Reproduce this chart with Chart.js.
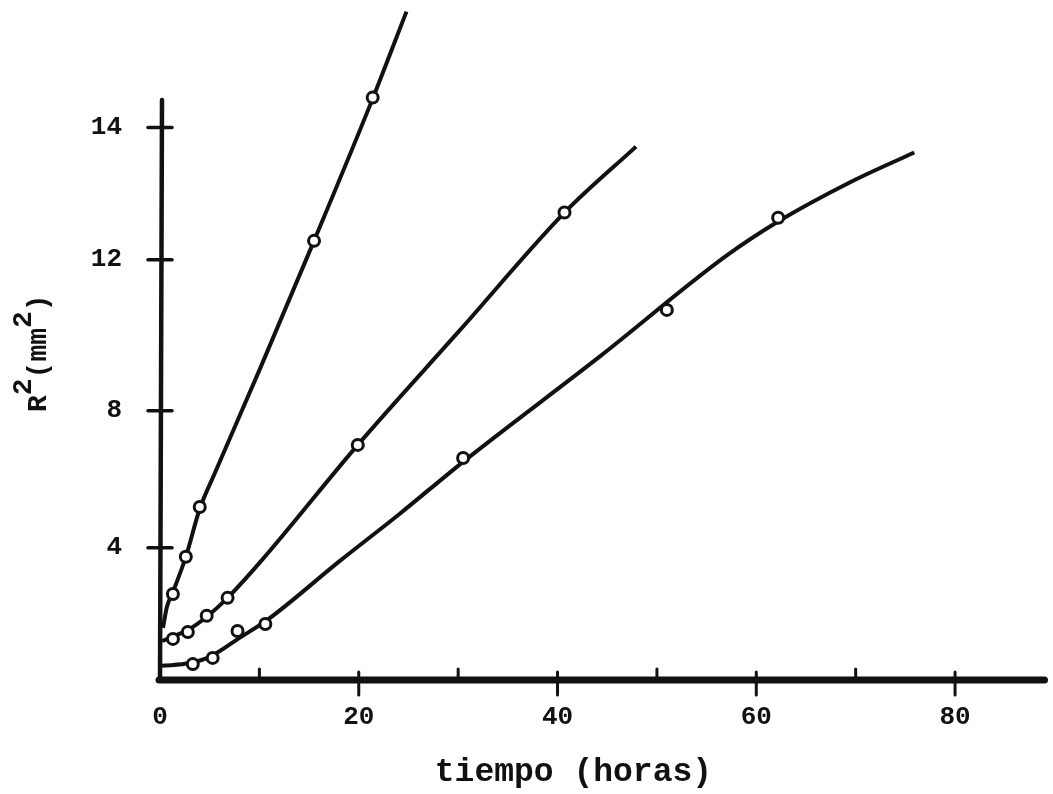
<!DOCTYPE html>
<html><head><meta charset="utf-8">
<script src="https://cdn.jsdelivr.net/npm/chart.js@4"></script>
<style>html,body{margin:0;padding:0;background:#fff}</style>
</head><body><canvas id="c" width="1053" height="794"></canvas>
<script>
// ---- tick labels ----
const xTickValues = [0, 20, 40, 60, 80];
const xTickLabels = ['0', '20', '40', '60', '80'];
const xMinorTickValues = [10, 30, 50, 70];
const yTickValues = [3.83, 7.8, 12.17, 16];
const yTickLabels = ['4', '8', '12', '14'];
const xTitle = 'tiempo (horas)';
const yTitle = 'R²(mm²)';

// ---- measured points (open circles) ----
const seriesA_x = [1.3, 2.6, 4.0, 15.5, 21.4];
const seriesA_y = [2.49, 3.57, 5.01, 12.72, 16.87];
const seriesB_x = [1.3, 2.8, 4.7, 6.8, 19.9, 40.7];
const seriesB_y = [1.19, 1.39, 1.86, 2.38, 6.81, 13.54];
const seriesC_x = [3.3, 5.3, 7.8, 10.6, 30.5, 51.0, 62.2];
const seriesC_y = [0.46, 0.64, 1.42, 1.62, 6.43, 10.72, 13.39];

// ---- hand-drawn fitted curves ----
const curveA_x = [0.3, 0.7, 1.3, 2.6, 4.0, 5.5, 10.1, 15.5, 21.4, 24.8];
const curveA_y = [1.51, 2.12, 2.55, 3.57, 4.96, 5.98, 9.04, 12.72, 16.84, 19.36];
const curveB_x = [0.2, 1.5, 3.0, 4.7, 6.8, 10.1, 19.9, 30.2, 40.7, 47.9];
const curveB_y = [1.13, 1.28, 1.48, 1.83, 2.38, 3.42, 6.81, 10.14, 13.54, 15.45];
const curveC_x = [0.2, 3.0, 5.0, 8.0, 10.8, 18.1, 24.1, 30.5, 44.3, 57.0, 62.2, 69.4, 75.9];
const curveC_y = [0.41, 0.49, 0.67, 1.22, 1.74, 3.45, 4.81, 6.32, 9.38, 12.29, 13.28, 14.41, 15.28];

const xMin = 0, xMax = 89, yMin = 0, yMax = 16.8;
const INK = '#111';
const FONT = '"Liberation Mono", "DejaVu Sans Mono", monospace';

const zip = (xs, ys) => xs.map((x, i) => ({x, y: ys[i]}));

function curve(xs, ys) {
  return {data: zip(xs, ys), showLine: true, borderColor: INK, borderWidth: 4,
    pointRadius: 0, cubicInterpolationMode: 'monotone', clip: false, order: 2, fill: false};
}
function pts(xs, ys) {
  return {data: zip(xs, ys), showLine: false, pointStyle: 'circle', pointRadius: 5.5,
    pointBorderWidth: 3, pointBorderColor: INK, pointBackgroundColor: '#fff', clip: false, order: 1};
}

const axesPlugin = {
  id: 'axesPlugin',
  beforeDatasetsDraw(chart) {
    const {ctx} = chart;
    const xs = chart.scales.x, ys = chart.scales.y;
    const x0 = xs.getPixelForValue(0), y0 = ys.getPixelForValue(0);
    ctx.save();
    ctx.strokeStyle = INK; ctx.lineCap = 'round';
    // y axis
    ctx.lineWidth = 4.5;
    ctx.beginPath(); ctx.moveTo(x0, y0); ctx.lineTo(x0 + 2, ys.getPixelForValue(yMax)); ctx.stroke();
    // x axis
    ctx.lineWidth = 7;
    ctx.beginPath(); ctx.moveTo(x0 - 1, y0); ctx.lineTo(xs.getPixelForValue(xMax), y0); ctx.stroke();
    // y ticks crossing
    ctx.lineWidth = 3.5;
    yTickValues.forEach(v => {
      const p = ys.getPixelForValue(v);
      ctx.beginPath(); ctx.moveTo(x0 - 12, p); ctx.lineTo(x0 + 12, p); ctx.stroke();
    });
    // x major ticks
    ctx.lineWidth = 3;
    xTickValues.slice(1).forEach(v => {
      const p = xs.getPixelForValue(v);
      ctx.beginPath(); ctx.moveTo(p, y0 - 8); ctx.lineTo(p, y0 + 15); ctx.stroke();
    });
    // x minor ticks
    xMinorTickValues.forEach(v => {
      const p = xs.getPixelForValue(v);
      ctx.beginPath(); ctx.moveTo(p, y0 - 11); ctx.lineTo(p, y0); ctx.stroke();
    });
    ctx.restore();
  },
  afterDraw(chart) {
    const {ctx} = chart;
    const xs = chart.scales.x;
    ctx.save();
    ctx.fillStyle = INK;
    // x title
    ctx.font = 'bold 33px ' + FONT;
    ctx.textAlign = 'center'; ctx.textBaseline = 'alphabetic';
    ctx.fillText(xTitle, xs.getPixelForValue(41.6), 781);
    // y title (R, superscript 2, (mm, superscript 2, ))
    ctx.translate(46, 412);
    ctx.rotate(-Math.PI / 2);
    ctx.font = 'bold 28px ' + FONT;
    ctx.textAlign = 'left';
    const parts = [[yTitle.slice(0, 1), 0], ['2', 15], [yTitle.slice(2, 5), 0], ['2', 15], [yTitle.slice(6), 0]];
    let cx = 0;
    parts.forEach(([t, up]) => {
      ctx.fillText(t, cx, -up);
      cx += ctx.measureText(t).width;
    });
    ctx.restore();
  }
};

const bgPlugin = {
  id: 'bg',
  beforeDraw(chart) {
    const {ctx, width, height} = chart;
    ctx.save(); ctx.fillStyle = '#fff'; ctx.fillRect(0, 0, width, height); ctx.restore();
  }
};

new Chart(document.getElementById('c'), {
  type: 'scatter',
  data: {
    datasets: [
      curve(curveA_x, curveA_y), curve(curveB_x, curveB_y), curve(curveC_x, curveC_y),
      pts(seriesA_x, seriesA_y), pts(seriesB_x, seriesB_y), pts(seriesC_x, seriesC_y)
    ]
  },
  options: {
    responsive: false, animation: false, devicePixelRatio: 1,
    layout: {padding: {left: 0, top: 100, right: 8, bottom: 0}},
    plugins: {legend: {display: false}, tooltip: {enabled: false}},
    scales: {
      x: {
        type: 'linear', min: xMin, max: xMax,
        afterFit: s => { s.height = 114; },
        afterBuildTicks: s => { s.ticks = xTickValues.map(v => ({value: v})); },
        grid: {display: false, drawTicks: false}, border: {display: false},
        ticks: {padding: 22, color: INK, font: {family: FONT, size: 26, weight: 'bold'},
          maxRotation: 0, autoSkip: false,
          callback: (v) => xTickLabels[xTickValues.indexOf(v)]}
      },
      y: {
        type: 'linear', min: yMin, max: yMax,
        afterFit: s => { s.width = 160; },
        afterBuildTicks: s => { s.ticks = yTickValues.map(v => ({value: v})); },
        grid: {display: false, drawTicks: false}, border: {display: false},
        ticks: {padding: 38, color: INK, font: {family: FONT, size: 26, weight: 'bold'},
          autoSkip: false,
          callback: (v) => yTickLabels[yTickValues.indexOf(v)]}
      }
    }
  },
  plugins: [bgPlugin, axesPlugin]
});
</script>
</body></html>
